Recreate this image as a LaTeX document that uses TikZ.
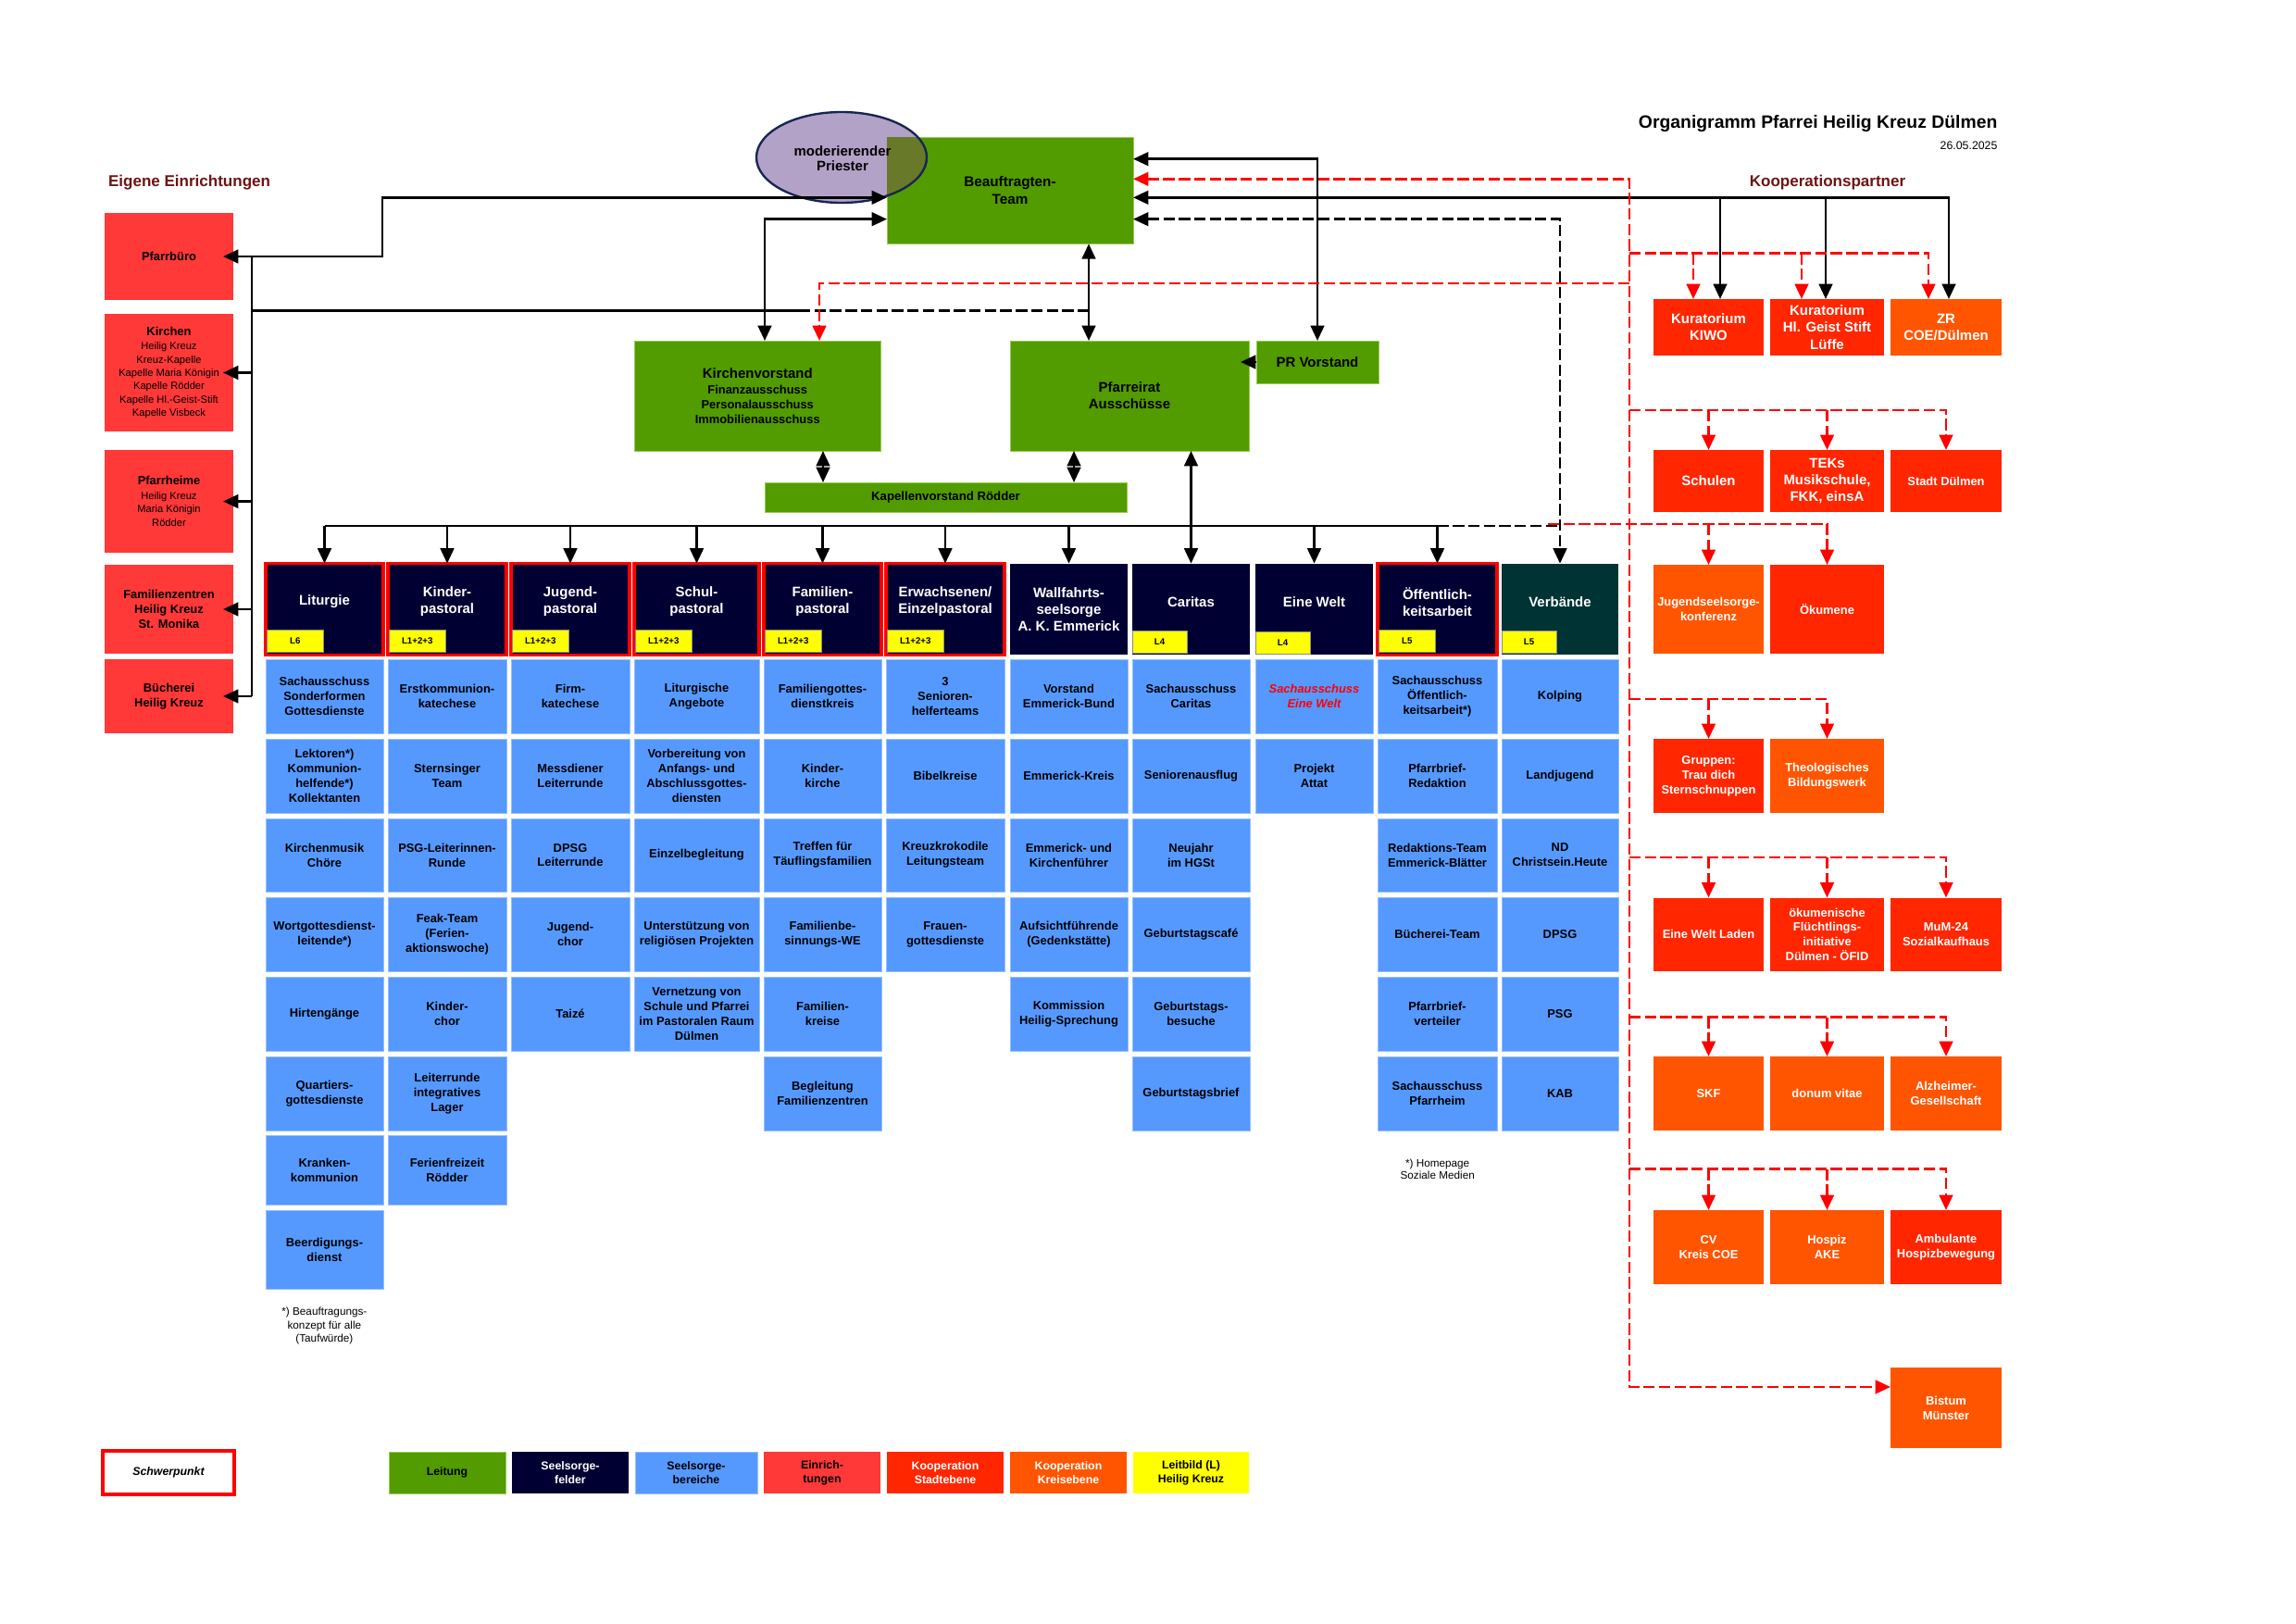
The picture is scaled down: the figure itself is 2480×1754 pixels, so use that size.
\documentclass[tikz,border=0pt]{standalone}
\usepackage{fontspec}
\setmainfont{Liberation Sans}
\usetikzlibrary{arrows.meta,shapes.geometric}

\definecolor{cgreen}{RGB}{82,155,0}
\definecolor{cgreenl}{RGB}{150,205,80}
\definecolor{colive}{RGB}{104,122,42}
\definecolor{clav}{RGB}{178,162,199}
\definecolor{cellb}{RGB}{23,37,84}
\definecolor{cnavy}{RGB}{0,0,51}
\definecolor{cblue}{RGB}{85,153,255}
\definecolor{cbluel}{RGB}{150,190,255}
\definecolor{cein}{RGB}{255,56,56}
\definecolor{cstadt}{RGB}{255,38,0}
\definecolor{ckreis}{RGB}{255,85,0}
\definecolor{cyel}{RGB}{255,255,0}
\definecolor{cteal}{RGB}{0,51,51}
\definecolor{cdred}{RGB}{110,20,20}
\definecolor{cred}{RGB}{255,0,0}

\def\pxu{0.11976mm}
\newcommand\colx[1]{\ifcase#1\or287\or419\or552\or685\or825\or957\or1091\or1223\or1356\or1488\or1622\fi}
\newcommand\colxr[1]{\ifcase#1\or414\or547\or680\or820\or952\or1085\or1218\or1350\or1483\or1617\or1748\fi}
\newcommand\rowy[1]{\ifcase#1\or712\or798\or884\or969.5\or1055\or1141\or1226\or1307\fi}
\newcommand\rowyb[1]{\ifcase#1\or792\or878\or963\or1049\or1135\or1221\or1301\or1392\fi}
\newcommand\mkbox[7]{\node[#1,anchor=north west,minimum width={(#5-#3)*\pxu},minimum height={(#6-#4)*\pxu}] (#2) at (#3,#4) {#7};}
\newcommand\mkblue[5][]{\mkbox{bbox,#1}{#2}{\colx{#3}}{\rowy{#4}}{\colxr{#3}}{\rowyb{#4}}{#5}}

\tikzset{
  bxbase/.style={inner sep=0pt,outer sep=0pt,align=center,font=\bfseries\fontsize{4.4}{5.4}\selectfont},
  fM/.style={font=\bfseries\fontsize{5.1}{6.2}\selectfont},
  fL/.style={font=\bfseries\fontsize{4.2}{5.1}\selectfont},
  leit/.style={bxbase,fill=cgreen,draw=cgreenl,line width=0.3pt,fM},
  bbox/.style={bxbase,fill=cblue,draw=cbluel,line width=0.3pt},
  ein/.style={bxbase,fill=cein},
  stadt/.style={bxbase,fill=cstadt,text=white},
  kreis/.style={bxbase,fill=ckreis,text=white},
  hdr/.style={bxbase,fill=cnavy},
  hdrs/.style={hdr,draw=cred,line width=1.1pt},
  htext/.style={bxbase,fM,text=white},
  ylab/.style={bxbase,fill=cyel,draw=black!45,line width=0.3pt,font=\bfseries\fontsize{3.3}{4}\selectfont},
  ln/.style={line width=0.9pt,black},
  arr/.style={-{Triangle[length=5.6pt,width=5pt]}},
  arrs/.style={{Triangle[length=5.6pt,width=5pt]}-{Triangle[length=5.6pt,width=5pt]}},
  bd/.style={ln,dash pattern=on 4.2pt off 1.5pt},
  rd/.style={line width=0.95pt,cred,dash pattern=on 4.2pt off 1.5pt},
}

\begin{document}
\begin{tikzpicture}[x=0.11976mm,y=-0.11976mm]
\useasboundingbox (0,0) rectangle (2480,1754);
\fill[white] (0,0) rectangle (2480,1754);

% ---------- titles
\node[anchor=east,inner sep=0pt,font=\bfseries\fontsize{6.6}{8}\selectfont] (title) at (2158,133.3) {Organigramm Pfarrei Heilig Kreuz Dülmen};
\node[anchor=east,inner sep=0pt,font=\fontsize{4.2}{5}\selectfont] (date) at (2158,157.3) {26.05.2025};
\node[anchor=west,inner sep=0pt,text=cdred,font=\bfseries\fontsize{5.8}{7}\selectfont] (eig) at (116.5,197.3) {Eigene Einrichtungen};
\node[inner sep=0pt,text=cdred,font=\bfseries\fontsize{5.8}{7}\selectfont] (koop) at (1974,197.3) {Kooperationspartner};

% ---------- eigene Einrichtungen
\mkbox{ein}{pb}{113}{230}{252}{324}{Pfarrbüro}
\mkbox{ein,font=\fontsize{3.8}{4.9}\selectfont}{ki}{113}{339}{252}{466}{{\bfseries\fontsize{4.4}{5.4}\selectfont Kirchen}\\[0.4pt]Heilig Kreuz\\Kreuz-Kapelle\\Kapelle Maria Königin\\Kapelle Rödder\\Kapelle Hl.-Geist-Stift\\Kapelle Visbeck}
\mkbox{ein,font=\fontsize{3.8}{4.9}\selectfont}{ph}{113}{486}{252}{597}{{\bfseries\fontsize{4.4}{5.4}\selectfont Pfarrheime}\\[0.4pt]Heilig Kreuz\\Maria Königin\\Rödder}
\mkbox{ein}{fz}{113}{610}{252}{706}{Familienzentren\\Heilig Kreuz\\St. Monika}
\mkbox{ein}{bue}{113}{712}{252}{792}{Bücherei\\Heilig Kreuz}

% ---------- Leitung
\node[ellipse,fill=clav,inner sep=0pt,minimum width={184*\pxu},minimum height={98*\pxu}] (mp) at (909,170) {};
\mkbox{leit,font=\bfseries\fontsize{5.2}{6.5}\selectfont}{bt}{958}{148.3}{1224}{263.3}{Beauftragten-\\Team}
\begin{scope}
  \clip (909,170) ellipse [x radius={92*\pxu},y radius={49*\pxu}];
  \fill[colive] (bt.north west) rectangle (bt.south east);
\end{scope}
\draw[cellb,line width=0.8pt] (mp.center) ellipse [x radius={92*\pxu},y radius={49*\pxu}];
\node[bxbase,font=\bfseries\fontsize{5.1}{5.6}\selectfont] (mpt) at (910,171) {moderierender\\Priester};

\mkbox{leit,font=\bfseries\fontsize{4.4}{5.4}\selectfont}{kv}{685.5}{368}{951}{487}{{\fontsize{5.1}{6}\selectfont Kirchenvorstand}\\[0.7pt]Finanzausschuss\\Personalausschuss\\Immobilienausschuss}
\mkbox{leit}{pr}{1091}{368}{1349}{487}{Pfarreirat\\Ausschüsse}
\mkbox{leit}{prv}{1357}{368}{1489}{414}{PR Vorstand}
\mkbox{leit,font=\bfseries\fontsize{4.5}{5.4}\selectfont}{kvr}{826}{521}{1217}{553}{Kapellenvorstand Rödder}

% ---------- Seelsorgefelder
\mkbox{hdrs}{h1}{\colx{1}}{608.6}{\colxr{1}}{707.3}{}
\mkbox{hdrs}{h2}{\colx{2}}{608.6}{\colxr{2}}{707.3}{}
\mkbox{hdrs}{h3}{\colx{3}}{608.6}{\colxr{3}}{707.3}{}
\mkbox{hdrs}{h4}{\colx{4}}{608.6}{\colxr{4}}{707.3}{}
\mkbox{hdrs}{h5}{\colx{5}}{608.6}{\colxr{5}}{707.3}{}
\mkbox{hdrs}{h6}{\colx{6}}{608.6}{\colxr{6}}{707.3}{}
\mkbox{hdr}{h7}{\colx{7}}{608.6}{\colxr{7}}{707.3}{}
\mkbox{hdr}{h8}{\colx{8}}{608.6}{\colxr{8}}{707.3}{}
\mkbox{hdr}{h9}{\colx{9}}{608.6}{\colxr{9}}{707.3}{}
\mkbox{hdrs}{h10}{\colx{10}}{608.6}{\colxr{10}}{707.3}{}
\mkbox{hdr,fill=cteal}{h11}{\colx{11}}{608.6}{\colxr{11}}{707.3}{}

\node[htext] (t1) at ([yshift={8*\pxu}]h1.center) {Liturgie};
\node[htext] (t2) at ([yshift={8*\pxu}]h2.center) {Kinder-\\pastoral};
\node[htext] (t3) at ([yshift={8*\pxu}]h3.center) {Jugend-\\pastoral};
\node[htext] (t4) at ([yshift={8*\pxu}]h4.center) {Schul-\\pastoral};
\node[htext] (t5) at ([yshift={8*\pxu}]h5.center) {Familien-\\pastoral};
\node[htext] (t6) at ([yshift={8*\pxu}]h6.center) {Erwachsenen/\\Einzelpastoral};
\node[htext] (t7) at (h7.center) {Wallfahrts-\\seelsorge\\A. K. Emmerick};
\node[htext] (t8) at ([yshift={8*\pxu}]h8.center) {Caritas};
\node[htext] (t9) at ([yshift={8*\pxu}]h9.center) {Eine Welt};
\node[htext] (t10) at ([yshift={8*\pxu}]h10.center) {Öffentlich-\\keitsarbeit};
\node[htext] (t11) at ([yshift={8*\pxu}]h11.center) {Verbände};

\mkbox{ylab}{l1}{\colx{1}+1.5}{680}{\colx{1}+59}{704.5}{L6}
\mkbox{ylab}{l2}{\colx{2}+1.5}{680}{\colx{2}+59}{704.5}{L1+2+3}
\mkbox{ylab}{l3}{\colx{3}+1.5}{680}{\colx{3}+59}{704.5}{L1+2+3}
\mkbox{ylab}{l4}{\colx{4}+1.5}{680}{\colx{4}+59}{704.5}{L1+2+3}
\mkbox{ylab}{l5}{\colx{5}+1.5}{680}{\colx{5}+59}{704.5}{L1+2+3}
\mkbox{ylab}{l6}{\colx{6}+1.5}{680}{\colx{6}+59}{704.5}{L1+2+3}
\mkbox{ylab}{l8}{\colx{8}}{681}{\colx{8}+59}{705}{L4}
\mkbox{ylab}{l9}{\colx{9}}{682}{\colx{9}+59}{706}{L4}
\mkbox{ylab}{l10}{\colx{10}+1.5}{680}{\colx{10}+59}{704.5}{L5}
\mkbox{ylab}{l11}{\colx{11}}{681}{\colx{11}+59}{705}{L5}

% ---------- Seelsorgebereiche
\mkblue{b11}{1}{1}{Sachausschuss\\Sonderformen\\Gottesdienste}
\mkblue{b12}{1}{2}{Lektoren*)\\Kommunion-\\helfende*)\\Kollektanten}
\mkblue{b13}{1}{3}{Kirchenmusik\\Chöre}
\mkblue{b14}{1}{4}{Wortgottesdienst-\\leitende*)}
\mkblue{b15}{1}{5}{Hirtengänge}
\mkblue{b16}{1}{6}{Quartiers-\\gottesdienste}
\mkblue{b17}{1}{7}{Kranken-\\kommunion}
\mkblue{b18}{1}{8}{Beerdigungs-\\dienst}

\mkblue{b21}{2}{1}{Erstkommunion-\\katechese}
\mkblue{b22}{2}{2}{Sternsinger\\Team}
\mkblue{b23}{2}{3}{PSG-Leiterinnen-\\Runde}
\mkblue{b24}{2}{4}{Feak-Team\\(Ferien-\\aktionswoche)}
\mkblue{b25}{2}{5}{Kinder-\\chor}
\mkblue{b26}{2}{6}{Leiterrunde\\integratives\\Lager}
\mkblue{b27}{2}{7}{Ferienfreizeit\\Rödder}

\mkblue{b31}{3}{1}{Firm-\\katechese}
\mkblue{b32}{3}{2}{Messdiener\\Leiterrunde}
\mkblue{b33}{3}{3}{DPSG\\Leiterrunde}
\mkblue{b34}{3}{4}{Jugend-\\chor}
\mkblue{b35}{3}{5}{Taizé}

\mkblue{b41}{4}{1}{Liturgische\\Angebote}
\mkblue{b42}{4}{2}{Vorbereitung von\\Anfangs- und\\Abschlussgottes-\\diensten}
\mkblue{b43}{4}{3}{Einzelbegleitung}
\mkblue{b44}{4}{4}{Unterstützung von\\religiösen Projekten}
\mkblue{b45}{4}{5}{Vernetzung von\\Schule und Pfarrei\\im Pastoralen Raum\\Dülmen}

\mkblue{b51}{5}{1}{Familiengottes-\\dienstkreis}
\mkblue{b52}{5}{2}{Kinder-\\kirche}
\mkblue{b53}{5}{3}{Treffen für\\Täuflingsfamilien}
\mkblue{b54}{5}{4}{Familienbe-\\sinnungs-WE}
\mkblue{b55}{5}{5}{Familien-\\kreise}
\mkblue{b56}{5}{6}{Begleitung\\Familienzentren}

\mkblue{b61}{6}{1}{3\\Senioren-\\helferteams}
\mkblue{b62}{6}{2}{Bibelkreise}
\mkblue{b63}{6}{3}{Kreuzkrokodile\\Leitungsteam}
\mkblue{b64}{6}{4}{Frauen-\\gottesdienste}

\mkblue{b71}{7}{1}{Vorstand\\Emmerick-Bund}
\mkblue{b72}{7}{2}{Emmerick-Kreis}
\mkblue{b73}{7}{3}{Emmerick- und\\Kirchenführer}
\mkblue{b74}{7}{4}{Aufsichtführende\\(Gedenkstätte)}
\mkblue{b75}{7}{5}{Kommission\\Heilig-Sprechung}

\mkblue{b81}{8}{1}{Sachausschuss\\Caritas}
\mkblue{b82}{8}{2}{Seniorenausflug}
\mkblue{b83}{8}{3}{Neujahr\\im HGSt}
\mkblue{b84}{8}{4}{Geburtstagscafé}
\mkblue{b85}{8}{5}{Geburtstags-\\besuche}
\mkblue{b86}{8}{6}{Geburtstagsbrief}

\mkblue[text=cred,font=\bfseries\itshape\fontsize{4.4}{5.4}\selectfont]{b91}{9}{1}{Sachausschuss\\Eine Welt}
\mkblue{b92}{9}{2}{Projekt\\Attat}

\mkblue{b101}{10}{1}{Sachausschuss\\Öffentlich-\\keitsarbeit*)}
\mkblue{b102}{10}{2}{Pfarrbrief-\\Redaktion}
\mkblue{b103}{10}{3}{Redaktions-Team\\Emmerick-Blätter}
\mkblue{b104}{10}{4}{Bücherei-Team}
\mkblue{b105}{10}{5}{Pfarrbrief-\\verteiler}
\mkblue{b106}{10}{6}{Sachausschuss\\Pfarrheim}

\mkblue{b111}{11}{1}{Kolping}
\mkblue{b112}{11}{2}{Landjugend}
\mkblue{b113}{11}{3}{ND\\Christsein.Heute}
\mkblue{b114}{11}{4}{DPSG}
\mkblue{b115}{11}{5}{PSG}
\mkblue{b116}{11}{6}{KAB}

\node[bxbase,font=\fontsize{4}{4.9}\selectfont] (fn1) at (350.4,1432) {*) Beauftragungs-\\konzept für alle\\(Taufwürde)};
\node[bxbase,font=\fontsize{4}{4.6}\selectfont] (fn2) at (1552.7,1262.7) {*) Homepage\\Soziale Medien};

% ---------- Kooperationspartner
\mkbox{stadt,fM}{kiwo}{1786}{323}{1905}{384}{Kuratorium\\KIWO}
\mkbox{stadt,fM}{hgs}{1912}{323}{2035}{384}{Kuratorium\\Hl. Geist Stift\\Lüffe}
\mkbox{kreis,fM}{zr}{2042}{323}{2162}{384}{ZR\\COE/Dülmen}
\mkbox{stadt,fM}{sch}{1786}{486}{1905}{553}{Schulen}
\mkbox{stadt,fM}{teks}{1912}{486}{2035}{553}{TEKs\\Musikschule,\\FKK, einsA}
\mkbox{stadt}{std}{2042}{486}{2162}{553}{Stadt Dülmen}
\mkbox{kreis}{jsk}{1786}{610}{1905}{706}{Jugendseelsorge-\\konferenz}
\mkbox{stadt}{oek}{1912}{610}{2035}{706}{Ökumene}
\mkbox{stadt}{grp}{1786}{798}{1905}{878}{Gruppen:\\Trau dich\\Sternschnuppen}
\mkbox{kreis}{tbw}{1912}{798}{2035}{878}{Theologisches\\Bildungswerk}
\mkbox{stadt}{ewl}{1786}{969.5}{1905}{1049}{Eine Welt Laden}
\mkbox{stadt}{ofid}{1912}{969.5}{2035}{1049}{ökumenische\\Flüchtlings-\\initiative\\Dülmen - ÖFID}
\mkbox{stadt}{mum}{2042}{969.5}{2162}{1049}{MuM-24\\Sozialkaufhaus}
\mkbox{kreis}{skf}{1786}{1141}{1905}{1221}{SKF}
\mkbox{kreis}{dv}{1912}{1141}{2035}{1221}{donum vitae}
\mkbox{kreis}{alz}{2042}{1141}{2162}{1221}{Alzheimer-\\Gesellschaft}
\mkbox{kreis}{cv}{1786}{1307}{1905}{1387}{CV\\Kreis COE}
\mkbox{kreis}{hos}{1912}{1307}{2035}{1387}{Hospiz\\AKE}
\mkbox{stadt}{amb}{2042}{1307}{2162}{1387}{Ambulante\\Hospizbewegung}
\mkbox{kreis}{bis}{2042}{1477}{2162}{1564}{Bistum\\Münster}

% ---------- Legende
\mkbox{bxbase,fill=white,draw=cred,line width=1.1pt,font=\bfseries\itshape\fontsize{4.2}{5.1}\selectfont}{lg0}{111}{1567}{253}{1614}{Schwerpunkt}
\mkbox{leit,fL}{lg1}{420}{1568}{546}{1613}{Leitung}
\mkbox{hdr,fL,text=white}{lg2}{553}{1568}{679}{1613}{Seelsorge-\\felder}
\mkbox{bbox,fL}{lg3}{686}{1568}{818}{1613}{Seelsorge-\\bereiche}
\mkbox{ein,fL}{lg4}{825}{1568}{951}{1613}{Einrich-\\tungen}
\mkbox{stadt,fL}{lg5}{958}{1568}{1084}{1613}{Kooperation\\Stadtebene}
\mkbox{kreis,fL}{lg6}{1091}{1568}{1217}{1613}{Kooperation\\Kreisebene}
\mkbox{bxbase,fill=cyel,fL}{lg7}{1224}{1568}{1349}{1613}{Leitbild (L)\\Heilig Kreuz}

% ---------- connectors left
\draw[ln,arrs] ([xshift={-11*\pxu}]pb.east) -- (413,277) -- (413,213.3) -- (bt.west |- 0,213.3);
\draw[ln] (272,277) -- (bue.east -| 272,0);
\draw[ln,arr] (ki.east -| 272,0) -- ([xshift={-11*\pxu}]ki.east);
\draw[ln,arr] (ph.east -| 272,0) -- ([xshift={-11*\pxu}]ph.east);
\draw[ln,arr] (fz.east -| 272,0) -- ([xshift={-11*\pxu}]fz.east);
\draw[ln,arr] (bue.east -| 272,0) -- ([xshift={-11*\pxu}]bue.east);
\draw[ln] (272,335.7) -- (863,335.7);
\draw[bd] (863,335.7) -- (1176,335.7);

% ---------- connectors Leitung
\draw[ln,arrs] (kv.north -| 826,0) |- (bt.west |- 0,236.7);
\draw[ln,arrs] (bt.south -| 1176,0) -- (pr.north -| 1176,0);
\draw[ln,arrs] (kv.south -| 889,0) -- (kvr.north -| 889,0);
\draw[ln,arrs] (pr.south -| 1160,0) -- (kvr.north -| 1160,0);
\draw[ln,arrs] (bt.east |- 0,171.7) -| (prv.north);
\draw[ln,arr] (prv.west) -- (prv.west -| 1340,0);
\draw[ln,arrs] (bt.east |- 0,213.3) -- (2105,213.3) -- (zr.north -| 2105,0);
\draw[ln,arr] (1858,213.3) -- (kiwo.north -| 1858,0);
\draw[ln,arr] (1972,213.3) -- (hgs.north -| 1972,0);
\draw[bd,arrs] (bt.east |- 0,236.7) -| (h11.north);

% ---------- bus to Seelsorgefelder
\draw[ln] (h1.north |- 0,568) -- (h10.north |- 0,568);
\draw[bd] (h10.north |- 0,568) -- (h11.north |- 0,568);
\foreach \i in {1,...,10} \draw[ln,arr] (h\i.north |- 0,568) -- (h\i.north);
\draw[ln,arr] (h8.north |- 0,568) -- (pr.south -| h8.north);

% ---------- red dashed cooperation lines
\draw[rd,arrs] (bt.east |- 0,193.3) -- (1760,193.3) -- (1760,1498) -- (bis.west |- 0,1498);
\draw[rd,arr] (1760,306) -| (kv.north -| 885,0);
\draw[rd,arr] (1760,273.3) -- (2083,273.3) -- (zr.north -| 2083,0);
\draw[rd,arr] (1829,273.3) -- (kiwo.north -| 1829,0);
\draw[rd,arr] (1946,273.3) -- (hgs.north -| 1946,0);
\draw[rd,arr] (1760,443) -| (std.north);
\draw[rd,arr] (sch.north |- 0,443) -- (sch.north);
\draw[rd,arr] (teks.north |- 0,443) -- (teks.north);
\draw[rd,arr] (1672,566) -| (oek.north);
\draw[rd,arr] (jsk.north |- 0,566) -- (jsk.north);
\draw[rd,arr] (1760,755) -| (tbw.north);
\draw[rd,arr] (grp.north |- 0,755) -- (grp.north);
\draw[rd,arr] (1760,926) -| (mum.north);
\draw[rd,arr] (ewl.north |- 0,926) -- (ewl.north);
\draw[rd,arr] (ofid.north |- 0,926) -- (ofid.north);
\draw[rd,arr] (1760,1098.6) -| (alz.north);
\draw[rd,arr] (skf.north |- 0,1098.6) -- (skf.north);
\draw[rd,arr] (dv.north |- 0,1098.6) -- (dv.north);
\draw[rd,arr] (1760,1262.5) -| (amb.north);
\draw[rd,arr] (cv.north |- 0,1262.5) -- (cv.north);
\draw[rd,arr] (hos.north |- 0,1262.5) -- (hos.north);
\end{tikzpicture}
\end{document}
